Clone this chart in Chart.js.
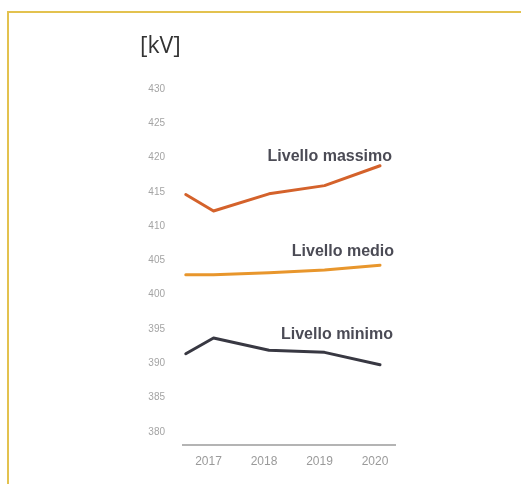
<!DOCTYPE html>
<html>
<head>
<meta charset="utf-8">
<script src="https://cdn.jsdelivr.net/npm/chart.js@4"></script>
<style>
  html, body { margin: 0; padding: 0; background: #ffffff; overflow: hidden; }
  #frame {
    position: absolute; left: 7px; top: 11px; width: 600px; height: 600px;
    border-top: 2px solid #e3c24f; border-left: 2px solid #e3c24f;
  }
  #wrap { position: absolute; left: 0; top: 0; width: 521px; height: 484px; }
</style>
</head>
<body>
<div id="frame"></div>
<div id="wrap"><canvas id="c" width="521" height="484"></canvas></div>
<script>
// Voltage levels on the grid, by year (first point is mid-2016)
const years = [2016.5, 2017, 2018, 2019, 2020];
const livelloMassimo = [414.6, 412.2, 414.7, 415.9, 418.8];
const livelloMedio   = [402.9, 402.9, 403.2, 403.6, 404.3];
const livelloMinimo  = [391.4, 393.7, 391.9, 391.6, 389.8];

const xTickValues = [2017, 2018, 2019, 2020];
const yTickValues = [380, 385, 390, 395, 400, 405, 410, 415, 420, 425, 430];

const seriesNames = ['Livello massimo', 'Livello medio', 'Livello minimo'];
const unitLabel = '[kV]';

function points(values) {
  return values.map((v, i) => ({ x: years[i], y: v }));
}

// Series name written just above the end of each line
const endLabels = {
  id: 'endLabels',
  afterDatasetsDraw(chart) {
    const ctx = chart.ctx;
    ctx.save();
    ctx.font = 'bold 16px "Liberation Sans", Arial, sans-serif';
    ctx.fillStyle = '#4b4b55';
    ctx.textAlign = 'right';
    ctx.textBaseline = 'middle';
    chart.data.datasets.forEach((ds, i) => {
      const meta = chart.getDatasetMeta(i);
      const last = meta.data[meta.data.length - 1];
      ctx.fillText(ds.label, last.x + ds.labelDx, last.y + ds.labelDy);
    });
    ctx.restore();
  }
};

// Unit caption above the value axis
const unitCaption = {
  id: 'unitCaption',
  afterDraw(chart) {
    const ctx = chart.ctx;
    ctx.save();
    ctx.font = '23px "Open Sans", "Liberation Sans", sans-serif';
    ctx.fillStyle = '#333333';
    ctx.textAlign = 'left';
    ctx.textBaseline = 'middle';
    ctx.fillText(unitLabel, chart.chartArea.left - 43, 46);
    ctx.restore();
  }
};

new Chart(document.getElementById('c'), {
  type: 'line',
  data: {
    datasets: [
      { label: seriesNames[0], data: points(livelloMassimo), borderColor: '#d4622b',
        labelDx: 12, labelDy: -9 },
      { label: seriesNames[1], data: points(livelloMedio), borderColor: '#e8962c',
        labelDx: 14, labelDy: -14 },
      { label: seriesNames[2], data: points(livelloMinimo), borderColor: '#383842',
        labelDx: 13, labelDy: -30 }
    ]
  },
  options: {
    responsive: false,
    animation: false,
    events: [],
    layout: { padding: { left: 0, right: 126, top: 82, bottom: 0 } },
    elements: {
      line: { borderWidth: 3, tension: 0, borderCapStyle: 'round', borderJoinStyle: 'round' },
      point: { radius: 0 }
    },
    plugins: { legend: { display: false }, tooltip: { enabled: false } },
    scales: {
      x: {
        type: 'linear',
        min: 2016.45,
        max: 2020.27,
        grid: { display: false, drawTicks: false },
        border: { display: true, color: '#b4b4b4', width: 2 },
        afterBuildTicks(scale) { scale.ticks = xTickValues.map(v => ({ value: v })); },
        afterFit(scale) { scale.height = 39; },
        ticks: {
          padding: 9,
          labelOffset: -5,
          color: '#9a9a9a',
          font: { family: '"Liberation Sans", Arial, sans-serif', size: 12 },
          callback: v => String(v)
        }
      },
      y: {
        type: 'linear',
        min: 378.1,
        max: 431.0,
        grid: { display: false, drawTicks: false },
        border: { display: false },
        afterBuildTicks(scale) { scale.ticks = yTickValues.map(v => ({ value: v })); },
        afterFit(scale) { scale.width = 183; },
        ticks: {
          padding: 18,
          color: '#a4a4a4',
          font: { family: '"Liberation Sans", Arial, sans-serif', size: 10 },
          callback: v => String(v)
        }
      }
    }
  },
  plugins: [endLabels, unitCaption]
});
</script>
</body>
</html>
